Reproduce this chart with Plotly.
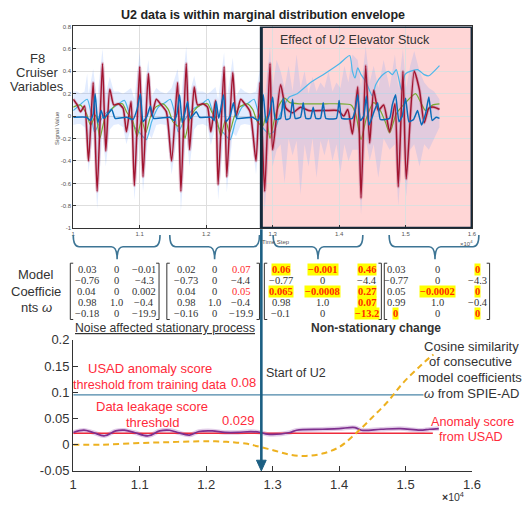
import plotly.graph_objects as go

W, H = 522, 508

# ---------------- data ----------------
u2_start = 1.283  # x10^4 time step where U2 elevator stuck starts

red_x = [1.000, 1.006, 1.011, 1.017, 1.023, 1.030, 1.036, 1.044, 1.049, 1.055, 1.061, 1.068, 1.075, 1.080,
         1.087, 1.092, 1.100, 1.105, 1.113, 1.118, 1.125, 1.131, 1.140, 1.148, 1.157, 1.162, 1.170, 1.175,
         1.182, 1.187, 1.195, 1.202, 1.207, 1.214, 1.218, 1.227, 1.231, 1.240, 1.245, 1.252, 1.258, 1.266,
         1.275, 1.281, 1.288, 1.296, 1.300, 1.312, 1.320, 1.330, 1.342, 1.354, 1.379, 1.398, 1.407, 1.413,
         1.420, 1.428, 1.433, 1.440, 1.446, 1.452, 1.459, 1.467, 1.476, 1.484, 1.489, 1.496, 1.501, 1.513,
         1.521, 1.528, 1.535, 1.543, 1.551]
red_y = [0.15, 0.10, 0.04, 0.09, -0.40, 0.30, -0.67, 0.47, -0.31, 0.24, 0.10, 0.11, 0.07, -0.14,
         0.13, -0.62, 0.44, -0.54, 0.38, 0.00, 0.15, 0.11, 0.04, -0.40, 0.30, -0.67, 0.47, -0.30,
         0.26, 0.10, 0.11, 0.08, -0.14, 0.14, -0.61, 0.44, -0.54, 0.39, 0.00, 0.15, 0.11, 0.04,
         -0.40, 0.30, -0.67, 0.47, -0.30, 0.28, 0.07, 0.03, 0.08, 0.05, 0.05, 0.05, 0.00, 0.06,
         -0.16, 0.26, -0.73, 0.45, -0.24, 0.23, 0.05, 0.10, -0.14, 0.11, -0.63, 0.40, -0.56, 0.40,
         0.23, -0.06, 0.07, 0.08, 0.06]

cyan_x = [1.000, 1.010, 1.021, 1.026, 1.032, 1.040, 1.048, 1.056, 1.066, 1.077, 1.083, 1.090, 1.100, 1.110,
          1.118, 1.128, 1.138, 1.146, 1.152, 1.158, 1.166, 1.174, 1.182, 1.192, 1.203, 1.209, 1.216, 1.226,
          1.236, 1.244, 1.254, 1.264, 1.272, 1.278, 1.285, 1.295, 1.302, 1.312, 1.325, 1.337, 1.357, 1.376,
          1.401, 1.416, 1.420, 1.424, 1.428, 1.433, 1.440, 1.450, 1.455, 1.464, 1.474, 1.480, 1.486, 1.494,
          1.499, 1.503, 1.518, 1.528, 1.535, 1.551]
cyan_y = [0.05, 0.10, 0.15, 0.05, -0.14, -0.05, 0.02, 0.06, 0.10, 0.14, 0.05, -0.08, -0.15, -0.21,
          -0.05, 0.08, 0.12, 0.15, 0.04, -0.14, -0.05, 0.02, 0.07, 0.10, 0.15, 0.05, -0.08, -0.15,
          -0.21, -0.05, 0.08, 0.12, 0.15, 0.04, -0.10, -0.16, -0.135, 0.025, 0.17, 0.20, 0.30, 0.37,
          0.47, 0.54, 0.40, 0.34, 0.43, 0.37, 0.31, 0.18, 0.28, 0.36, 0.40, 0.37, 0.415, 0.23,
          0.37, 0.39, 0.415, 0.37, 0.36, 0.45]

green_x = [1.000, 1.010, 1.020, 1.026, 1.034, 1.040, 1.047, 1.055, 1.064, 1.074, 1.081, 1.089, 1.096, 1.103,
           1.109, 1.116, 1.124, 1.135, 1.143, 1.150, 1.158, 1.163, 1.168, 1.175, 1.182, 1.192, 1.202, 1.209,
           1.216, 1.222, 1.229, 1.235, 1.242, 1.250, 1.262, 1.270, 1.277, 1.285, 1.290, 1.296, 1.303, 1.310,
           1.318, 1.326, 1.340, 1.360, 1.380, 1.400, 1.418, 1.425, 1.433, 1.441, 1.452, 1.462, 1.470, 1.476,
           1.486, 1.500, 1.515, 1.523, 1.530, 1.541, 1.551]
green_y = [0.08, 0.10, 0.02, -0.08, 0.01, -0.20, -0.03, 0.04, 0.10, 0.11, 0.03, -0.03, -0.18, -0.03,
           -0.15, -0.01, 0.08, 0.11, 0.06, -0.05, -0.09, 0.00, -0.20, -0.03, 0.05, 0.10, 0.11, 0.03,
           -0.03, -0.18, -0.03, -0.15, -0.01, 0.08, 0.11, 0.06, -0.05, -0.09, 0.00, -0.20, -0.02, 0.10,
           0.16, 0.12, 0.11, 0.11, 0.11, 0.11, 0.10, 0.02, -0.21, -0.02, 0.12, 0.05, -0.06, -0.15,
           0.02, 0.12, 0.20, 0.12, 0.05, 0.10, 0.11]

blue_x = [1.000, 1.020, 1.026, 1.030, 1.033, 1.037, 1.042, 1.046, 1.052, 1.058, 1.063, 1.080, 1.090, 1.096,
          1.101, 1.105, 1.111, 1.116, 1.121, 1.145, 1.152, 1.156, 1.160, 1.164, 1.168, 1.172, 1.176, 1.185,
          1.190, 1.208, 1.212, 1.215, 1.219, 1.226, 1.230, 1.236, 1.241, 1.246, 1.270, 1.278, 1.282, 1.286,
          1.290, 1.295, 1.300, 1.304, 1.312, 1.316, 1.320, 1.326, 1.330, 1.334, 1.342, 1.346, 1.350, 1.357,
          1.361, 1.365, 1.372, 1.376, 1.380, 1.396, 1.400, 1.404, 1.420, 1.424, 1.428, 1.432, 1.437, 1.441,
          1.445, 1.452, 1.458, 1.462, 1.476, 1.480, 1.485, 1.490, 1.495, 1.500, 1.505, 1.512, 1.518, 1.524,
          1.530, 1.535, 1.540, 1.546, 1.551]
blue_y = [-0.01, -0.01, -0.04, 0.02, 0.20, -0.06, 0.05, -0.02, 0.02, 0.06, -0.02, -0.01, -0.03, 0.06,
          0.20, -0.05, 0.00, 0.09, -0.02, -0.01, -0.04, 0.02, 0.19, -0.06, 0.03, 0.13, -0.02, 0.04,
          -0.01, -0.01, -0.04, 0.13, -0.02, 0.19, -0.05, 0.00, 0.12, -0.02, -0.01, -0.04, 0.03, 0.19,
          -0.06, 0.02, 0.17, -0.03, -0.02, 0.16, -0.03, -0.02, 0.15, -0.02, -0.01, 0.12, -0.02, -0.02,
          0.08, -0.02, -0.02, 0.12, -0.02, -0.02, 0.14, -0.02, -0.02, 0.05, 0.19, -0.04, 0.00, 0.18,
          -0.08, 0.03, 0.12, -0.03, -0.02, 0.10, 0.19, -0.05, 0.00, 0.16, -0.05, -0.03, 0.05, -0.08,
          0.02, 0.17, -0.04, -0.01, -0.02]

env_x = [1.000, 1.006, 1.011, 1.017, 1.021, 1.023, 1.030, 1.036, 1.044, 1.049, 1.055, 1.061, 1.068, 1.075,
         1.080, 1.087, 1.092, 1.100, 1.105, 1.113, 1.118, 1.125, 1.131, 1.140, 1.148, 1.157, 1.162, 1.170,
         1.175, 1.182, 1.187, 1.195, 1.202, 1.207, 1.214, 1.218, 1.227, 1.231, 1.240, 1.245, 1.252, 1.258,
         1.266, 1.275, 1.281, 1.288, 1.296, 1.300, 1.306, 1.312, 1.318, 1.324, 1.330, 1.336, 1.342, 1.348,
         1.354, 1.360, 1.366, 1.372, 1.378, 1.384, 1.390, 1.396, 1.402, 1.408, 1.414, 1.420, 1.428, 1.433,
         1.440, 1.446, 1.452, 1.459, 1.467, 1.476, 1.484, 1.489, 1.496, 1.501, 1.507, 1.513, 1.521, 1.528,
         1.535, 1.543, 1.551]
env_lo = [-0.08, -0.07, -0.07, -0.10, -0.30, -0.50, -0.15, -0.83, -0.15, -0.45, -0.12, -0.08, -0.07, -0.10,
          -0.25, -0.10, -0.75, -0.15, -0.68, -0.15, -0.20, -0.08, -0.07, -0.08, -0.52, -0.15, -0.85, -0.15,
          -0.45, -0.12, -0.08, -0.07, -0.09, -0.26, -0.10, -0.75, -0.15, -0.68, -0.15, -0.18, -0.08, -0.07,
          -0.08, -0.52, -0.15, -0.85, -0.15, -0.45, -0.30, -0.25, -0.60, -0.20, -0.35, -0.22, -0.70, -0.25,
          -0.45, -0.20, -0.55, -0.22, -0.35, -0.20, -0.40, -0.25, -0.50, -0.25, -0.40, -0.30, -0.30, -0.88,
          -0.20, -0.40, -0.25, -0.55, -0.20, -0.30, -0.25, -0.80, -0.25, -0.72, -0.30, -0.25, -0.45, -0.25,
          -0.30, -0.20, -0.10]
env_hi = [0.22, 0.22, 0.20, 0.22, 0.38, 0.20, 0.42, 0.15, 0.60, 0.20, 0.35, 0.22, 0.22, 0.20,
          0.22, 0.25, 0.15, 0.57, 0.15, 0.50, 0.18, 0.25, 0.22, 0.20, 0.25, 0.42, 0.15, 0.62,
          0.20, 0.36, 0.22, 0.22, 0.20, 0.22, 0.26, 0.15, 0.57, 0.15, 0.52, 0.18, 0.25, 0.22,
          0.20, 0.22, 0.42, 0.15, 0.62, 0.25, 0.50, 0.40, 0.25, 0.45, 0.22, 0.55, 0.25, 0.40,
          0.20, 0.35, 0.22, 0.30, 0.25, 0.40, 0.22, 0.30, 0.25, 0.45, 0.30, 0.55, 0.50, 0.25,
          0.62, 0.30, 0.45, 0.25, 0.50, 0.25, 0.55, 0.25, 0.60, 0.25, 0.45, 0.58, 0.40, 0.30,
          0.25, 0.22, 0.15]

# bottom chart
usad_threshold = 0.095
usad_threshold_end = 1.527
leak_threshold = 0.022
leak_threshold_end = 1.541

score_x = [1.000, 1.016, 1.030, 1.047, 1.064, 1.077, 1.092, 1.113, 1.130, 1.145, 1.157, 1.175, 1.189, 1.209,
           1.228, 1.248, 1.267, 1.282, 1.292, 1.326, 1.336, 1.375, 1.400, 1.424, 1.434, 1.463, 1.492, 1.522,
           1.536, 1.550]
score_y = [0.0233, 0.0276, 0.0233, 0.0170, 0.0263, 0.0276, 0.0233, 0.0170, 0.0263, 0.0276, 0.0233, 0.0183,
           0.0251, 0.0263, 0.0233, 0.0233, 0.0251, 0.0233, 0.0201, 0.0233, 0.0276, 0.0294, 0.0307, 0.0326,
           0.0276, 0.0294, 0.0307, 0.0276, 0.0294, 0.0307]

cos_x = [1.000, 1.042, 1.092, 1.141, 1.189, 1.214, 1.238, 1.262, 1.277, 1.302, 1.326, 1.350, 1.375, 1.400,
         1.424, 1.449, 1.473, 1.497, 1.522, 1.536, 1.542]
cos_y = [0.000, 0.000, 0.0028, 0.0047, 0.0065, 0.0065, 0.0047, 0.0016, -0.003, -0.011, -0.019, -0.0214,
         -0.017, -0.0046, 0.020, 0.051, 0.082, 0.119, 0.150, 0.166, 0.172]

top_xticks = [1.0, 1.1, 1.2, 1.3, 1.4, 1.5, 1.6]
top_xticklabels = ["1", "1.1", "1.2", "1.3", "1.4", "1.5", "1.6"]
top_yticks = [-1, -0.8, -0.6, -0.4, -0.2, 0, 0.2, 0.4, 0.6, 0.8]
top_yticklabels = ["-1", "-0.8", "-0.6", "-0.4", "-0.2", "0", "0.2", "0.4", "0.6", "0.8"]
bot_yticks = [-0.05, 0, 0.05, 0.1, 0.15, 0.2]
bot_yticklabels = ["-0.05", "0", "0.05", "0.1", "0.15", "0.2"]

M1 = [["0.03", "0", "−0.01"], ["−0.76", "0", "−4.3"], ["0.04", "0", "0.002"], ["0.98", "1.0", "−0.4"], ["−0.18", "0", "−19.9"]]
M2 = [["0.02", "0", "0.07"], ["−0.73", "0", "−4.4"], ["0.04", "0", "0.05"], ["0.98", "1.0", "−0.4"], ["−0.16", "0", "−19.9"]]
M3 = [["0.06", "−0.001", "0.46"], ["−0.77", "0", "−4.4"], ["0.065", "−0.0008", "0.27"], ["0.98", "1.0", "0.07"], ["−0.1", "0", "−13.2"]]
M4 = [["0.03", "0", "0"], ["−0.77", "0", "−4.3"], ["0.05", "−0.0002", "0"], ["0.99", "1.0", "−0.4"], ["0", "0", "0"]]
M2_red = [(0, 2), (2, 2)]
M3_hl = [(0, 0), (0, 1), (0, 2), (2, 0), (2, 1), (2, 2), (3, 2), (4, 2)]
M4_hl = [(0, 2), (2, 1), (2, 2), (4, 0), (4, 2)]


# ---------------- helpers ----------------
def PX(x):
    return x / W


def PY(y):
    return 1 - y / H


SANS = "Liberation Sans, Arial, sans-serif"
SERIF = "Liberation Serif, Times New Roman, serif"

fig = go.Figure()

# envelope band
fig.add_trace(go.Scatter(x=env_x, y=env_lo, mode="lines", line=dict(width=0, color="rgba(0,0,0,0)"),
                         xaxis="x", yaxis="y", hoverinfo="skip"))
fig.add_trace(go.Scatter(x=env_x, y=env_hi, mode="lines", line=dict(width=0, color="rgba(0,0,0,0)"),
                         fill="tonexty", fillcolor="rgba(110,160,255,0.2)", xaxis="x", yaxis="y", hoverinfo="skip"))

fig.add_trace(go.Scatter(x=cyan_x, y=cyan_y, mode="lines", line=dict(color="#4db6ea", width=1.2, shape="spline", smoothing=0.6),
                         xaxis="x", yaxis="y"))
fig.add_trace(go.Scatter(x=green_x, y=green_y, mode="lines", line=dict(color="#77ac30", width=1.2, shape="spline", smoothing=0.6),
                         xaxis="x", yaxis="y"))
fig.add_trace(go.Scatter(x=red_x, y=red_y, mode="lines", line=dict(color="rgba(190,70,100,0.3)", width=3.2, shape="spline", smoothing=0.6),
                         xaxis="x", yaxis="y"))
fig.add_trace(go.Scatter(x=red_x, y=red_y, mode="lines", line=dict(color="#a2142f", width=1.5, shape="spline", smoothing=0.6),
                         xaxis="x", yaxis="y"))
fig.add_trace(go.Scatter(x=blue_x, y=blue_y, mode="lines", line=dict(color="#0a6bb8", width=1.5, shape="spline", smoothing=0.4),
                         xaxis="x", yaxis="y"))

# bottom chart
fig.add_trace(go.Scatter(x=[1.0, usad_threshold_end], y=[usad_threshold, usad_threshold], mode="lines",
                         line=dict(color="#4a86a8", width=1.3), xaxis="x2", yaxis="y2"))
fig.add_trace(go.Scatter(x=score_x, y=score_y, mode="lines", line=dict(color="rgba(160,90,180,0.3)", width=4.5, shape="spline"),
                         xaxis="x2", yaxis="y2"))
fig.add_trace(go.Scatter(x=[1.0, leak_threshold_end], y=[leak_threshold, leak_threshold], mode="lines",
                         line=dict(color="#ee2c3c", width=1.5), xaxis="x2", yaxis="y2"))
fig.add_trace(go.Scatter(x=score_x, y=score_y, mode="lines", line=dict(color="#7e2f8e", width=1.7, shape="spline"),
                         xaxis="x2", yaxis="y2"))
fig.add_trace(go.Scatter(x=cos_x, y=cos_y, mode="lines", line=dict(color="#edb120", width=2, dash="6px,4px", shape="spline"),
                         xaxis="x2", yaxis="y2"))

shapes = []
# pink region (below grid) and its border
shapes.append(dict(type="rect", xref="x", yref="y", x0=u2_start, x1=1.6, y0=-1, y1=0.8,
                   fillcolor="#ffd6d6", line=dict(width=0), layer="below"))
shapes.append(dict(type="rect", xref="x", yref="y", x0=u2_start, x1=1.6, y0=-1, y1=0.8,
                   fillcolor="rgba(0,0,0,0)", line=dict(color="#15293a", width=3), layer="above"))

# braces
brace_col = "#3d7595"
for (x0, xm, x1) in [(71, 116, 160), (170, 216, 262), (276, 322, 368), (395, 442, 487)]:
    p = (f"M {PX(x0)},{PY(235)} Q {PX(x0)},{PY(247)} {PX(x0+6)},{PY(247)} "
         f"L {PX(xm-6)},{PY(247)} Q {PX(xm)},{PY(247)} {PX(xm)},{PY(260)} "
         f"Q {PX(xm)},{PY(247)} {PX(xm+6)},{PY(247)} L {PX(x1-6)},{PY(247)} "
         f"Q {PX(x1)},{PY(247)} {PX(x1)},{PY(235)}")
    shapes.append(dict(type="path", xref="paper", yref="paper", path=p, line=dict(color=brace_col, width=1.6)))

# matrix brackets
for (xl, xr) in [(68, 159), (167, 262), (267, 387), (390, 498)]:
    pl = f"M {PX(xl+3)},{PY(264)} L {PX(xl)},{PY(264)} L {PX(xl)},{PY(322)} L {PX(xl+3)},{PY(322)}"
    pr = f"M {PX(xr-3)},{PY(264)} L {PX(xr)},{PY(264)} L {PX(xr)},{PY(322)} L {PX(xr-3)},{PY(322)}"
    for pth in (pl, pr):
        shapes.append(dict(type="path", xref="paper", yref="paper", path=pth, line=dict(color="#333333", width=1)))

# vertical arrow (start of U2)
arrow_col = "#1c5f83"
shapes.append(dict(type="line", xref="x2", yref="paper", x0=u2_start, x1=u2_start, y0=PY(229), y1=PY(469),
                   line=dict(color=arrow_col, width=2.6), layer="above"))
dx = 5 / 681.7
shapes.append(dict(type="path", xref="x2", yref="paper",
                   path=f"M {u2_start-dx},{PY(467)} L {u2_start+dx},{PY(467)} L {u2_start},{PY(478)} Z",
                   fillcolor=arrow_col, line=dict(color=arrow_col, width=1), layer="above"))

ann = []


def text(x, y, s, size=13, color="#333333", family=SANS, xanchor="center", **kw):
    ann.append(dict(x=PX(x), y=PY(y), xref="paper", yref="paper", text=s, showarrow=False,
                    font=dict(size=size, color=color, family=family), xanchor=xanchor, yanchor="middle", **kw))


text(266, 8, "<b>U2 data is within marginal distribution envelope</b>", size=12.5, color="#222222")
text(360, 34, "Effect of U2 Elevator Stuck", size=12.5, color="#333333")
text(34, 53, "F8", size=13)
text(34, 67, "Cruiser", size=13)
text(34, 82, "Variables", size=13)
text(55, 125, "Signal Value", size=6, color="#555555", textangle=-90)
text(279, 242, "Time Step", size=6, color="#555555")
text(474, 243, "×10<sup>4</sup>", size=6, color="#555555")

text(33, 276, "Model", size=13)
text(33, 293, "Coefficie", size=13)
text(33, 310, "nts <i>ω</i>", size=13)

row_y = [270, 281.5, 293, 304.5, 316]
mats = [(M1, [85, 115, 144], set(), set()),
        (M2, [187, 216, 243], set(M2_red), set()),
        (M3, [284, 327, 372], set(), set(M3_hl)),
        (M4, [402, 445, 486], set(), set(M4_hl))]
for M, cols, reds, hls in mats:
    for i, row in enumerate(M):
        for j, v in enumerate(row):
            if (i, j) in hls:
                ann.append(dict(x=PX(cols[j]), y=PY(row_y[i]), xref="paper", yref="paper", text=f"<b>{v}</b>",
                                showarrow=False, bgcolor="#ffff00", borderpad=0,
                                font=dict(size=10.5, color="#ff2a00", family=SERIF),
                                xanchor="center", yanchor="middle"))
            else:
                text(cols[j], row_y[i], v, size=10.5, family=SERIF,
                     color="#ff2a2a" if (i, j) in reds else "#333333")

text(165, 331, "<u>Noise affected stationary process</u>", size=12.2)
text(382, 331, "<b>Non-stationary change</b>", size=12)

# bottom annotations
RED = "#ff2a3a"
text(150, 373, "USAD anomaly score", size=13, color=RED)
text(149, 389, "threshold from training data", size=12.6, color=RED)
text(246, 387, "0.08", size=13, color=RED)
text(152, 412, "Data leakage score", size=13, color=RED)
text(152, 428, "threshold", size=13, color=RED)
text(240, 426, "0.029", size=13, color=RED)
text(299, 377, "Start of U2", size=12.5)
text(479, 350, "Cosine similarity", size=13)
text(478, 365, "of consecutive", size=13)
text(478, 382, "model coefficients", size=13)
text(479, 398, "<i>ω</i> from SPIE-AD", size=13)
text(480, 428, "Anomaly score", size=12.6, color=RED)
text(479, 443, "from USAD", size=12.6, color=RED)
text(460, 504, "<b>×</b>10<sup>4</sup>", size=10.5)

fig.update_layout(
    width=W, height=508, autosize=False,
    margin=dict(l=0, r=0, t=0, b=0),
    paper_bgcolor="white", plot_bgcolor="white",
    showlegend=False,
    shapes=shapes, annotations=ann,
    xaxis=dict(domain=[PX(71), PX(480)], range=[1.0, 1.6], anchor="y",
               tickvals=top_xticks, ticktext=top_xticklabels, tickfont=dict(size=6, color="#555555", family=SANS),
               showgrid=True, gridcolor="#dedede", gridwidth=1, zeroline=False,
               showline=True, linecolor="#333333", linewidth=1, mirror=True, ticks="inside", ticklen=3,
               tickcolor="#333333"),
    yaxis=dict(domain=[PY(228), PY(20)], range=[-1, 0.8], anchor="x",
               tickvals=top_yticks, ticktext=top_yticklabels, tickfont=dict(size=6, color="#555555", family=SANS),
               showgrid=True, gridcolor="#dedede", gridwidth=1, zeroline=False,
               showline=True, linecolor="#333333", linewidth=1, mirror=True, ticks="inside", ticklen=3,
               tickcolor="#333333"),
    xaxis2=dict(domain=[PX(71), PX(480)], range=[1.0, 1.6], anchor="y2",
                tickvals=top_xticks, ticktext=top_xticklabels, tickfont=dict(size=13, color="#333333", family=SANS),
                showgrid=False, zeroline=False, showline=True, linecolor="#333333", linewidth=1.3,
                ticks="inside", ticklen=5, tickcolor="#333333", ticklabelstandoff=1),
    yaxis2=dict(domain=[PY(478), PY(343)], range=[-0.05, 0.2], anchor="x2",
                tickvals=bot_yticks, ticktext=bot_yticklabels, tickfont=dict(size=13, color="#333333", family=SANS),
                showgrid=False, zeroline=False, showline=True, linecolor="#333333", linewidth=1.3,
                ticks="inside", ticklen=5, tickcolor="#333333"),
)

fig.write_html("out.html")
